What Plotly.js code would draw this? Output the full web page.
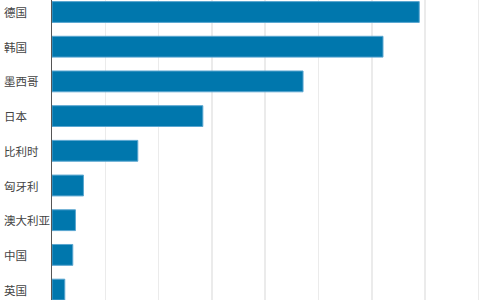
<!DOCTYPE html>
<html>
<head>
<meta charset="utf-8">
<script src="https://cdn.plot.ly/plotly-3.0.1.min.js"></script>
<style>
html,body{margin:0;padding:0;overflow:hidden;background:#fff;}
#chart{width:480px;height:300px;}
</style>
</head>
<body>
<div id="chart"></div>
<script>
const countries = ["德国", "韩国", "墨西哥", "日本", "比利时", "匈牙利", "澳大利亚", "中国", "英国"];
const values = [68.9, 62.1, 47.1, 28.3, 16.1, 5.9, 4.4, 3.9, 2.4];

const trace = {
  type: "bar",
  orientation: "h",
  y: countries,
  x: values,
  width: 0.6,
  marker: {color: "#0077ad", line: {color: "#5aa6d0", width: 1}},
  hoverinfo: "none"
};

const labels = countries.map(c => ({
  text: c,
  xref: "paper",
  yref: "y",
  x: 0,
  y: c,
  xshift: -50,
  xanchor: "left",
  yanchor: "middle",
  showarrow: false,
  font: {family: "Noto Sans CJK SC, sans-serif", size: 11.5, color: "#444444"}
}));

const layout = {
  width: 480,
  height: 300,
  margin: {l: 52, r: 0, t: 0, b: 0, pad: 0},
  paper_bgcolor: "#ffffff",
  plot_bgcolor: "#ffffff",
  showlegend: false,
  bargap: 0.4,
  annotations: labels,
  xaxis: {
    range: [0, 80.3],
    dtick: 10,
    tick0: 0,
    showgrid: true,
    gridcolor: "#ebebeb",
    gridwidth: 1.5,
    zeroline: false,
    showticklabels: false,
    ticks: "",
    showline: false
  },
  yaxis: {
    type: "category",
    range: [8.30, -0.346],
    showgrid: false,
    zeroline: false,
    showline: true,
    linecolor: "#555555",
    linewidth: 1,
    ticks: "",
    showticklabels: false
  }
};

Plotly.newPlot("chart", [trace], layout, {displayModeBar: false, staticPlot: true});
</script>
</body>
</html>
